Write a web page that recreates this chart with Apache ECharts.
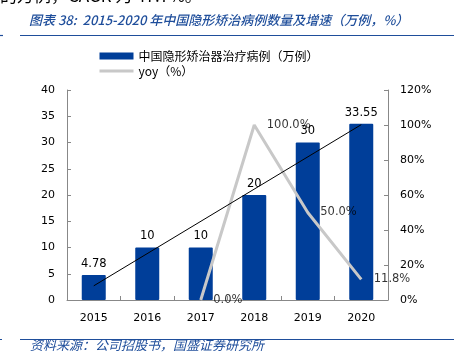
<!DOCTYPE html>
<html><head><meta charset="utf-8">
<script src="https://cdn.jsdelivr.net/npm/echarts@6/dist/echarts.min.js"></script>
<style>html,body{margin:0;padding:0;background:#fff}#c{width:454px;height:363px}</style>
</head><body><div id="c"></div>
<script>
const categories = ['2015','2016','2017','2018','2019','2020'];
const cases = [4.78, 10, 10, 20, 30, 33.55];
const yoy = [null, null, 0, 100, 50, 11.8];
const trendEnds = [2.7, 33.4];
const leftTicks = {min:0, max:40, interval:5};
const rightTicks = {min:0, max:120, interval:20};
const blue = '#003E99';
const numFont = 'DejaVu Sans';
const cjk = 'Noto Sans CJK SC';
const chart = echarts.init(document.getElementById('c'));
chart.setOption({
  animation:false,
  backgroundColor:'#fff',
  graphic:[
    {type:'text', left:0, top:-13, style:{text:'的万例，CAGR 为 47.7%。', font:'17px "Noto Sans CJK SC"', fill:'#000'}},
    {type:'text', left:29, top:14, style:{text:'图表 38:  2015-2020 年中国隐形矫治病例数量及增速（万例，%）', font:'italic 500 13px "Noto Sans CJK SC"', fill:'#1F4E9B'}},
    {type:'line', shape:{x1:20,y1:35.5,x2:454,y2:35.5}, style:{stroke:'#1F4E9B', lineWidth:1.2}},
    {type:'line', shape:{x1:0,y1:35.5,x2:3,y2:35.5}, style:{stroke:'#1F4E9B', lineWidth:1.2}},
    {type:'line', shape:{x1:20,y1:339.5,x2:454,y2:339.5}, style:{stroke:'#1F4E9B', lineWidth:1.2}},
    {type:'line', shape:{x1:0,y1:339.5,x2:2,y2:339.5}, style:{stroke:'#1F4E9B', lineWidth:1.2}},
    {type:'text', left:30, top:339, style:{text:'资料来源：公司招股书，国盛证券研究所', font:'italic 13px "Noto Sans CJK SC"', fill:'#1F4E9B'}}
  ],
  legend:{
    orient:'vertical', left:93, top:45, itemWidth:34, itemHeight:7, itemGap:3,
    textStyle:{fontFamily:cjk, fontSize:12, color:'#000'},
    data:[{name:'中国隐形矫治器治疗病例（万例）', icon:'rect'},
          {name:'yoy（%）', itemStyle:{opacity:0}, lineStyle:{color:'#C8C8C8', width:3}}]
  },
  grid:{left:67, right:66, top:90, bottom:63, containLabel:false},
  xAxis:{
    type:'category', data:categories,
    axisLine:{lineStyle:{color:'#888'}},
    axisTick:{show:true, inside:true, length:4, lineStyle:{color:'#888'}},
    axisLabel:{fontFamily:numFont, fontSize:11, color:'#000', margin:13}
  },
  yAxis:[
    {type:'value', min:leftTicks.min, max:leftTicks.max, interval:leftTicks.interval,
     splitLine:{show:false},
     axisLine:{show:true, lineStyle:{color:'#888'}},
     axisTick:{show:true, inside:true, length:4, lineStyle:{color:'#888'}},
     axisLabel:{fontFamily:numFont, fontSize:11, color:'#000', margin:12}},
    {type:'value', min:rightTicks.min, max:rightTicks.max, interval:rightTicks.interval,
     splitLine:{show:false},
     axisLine:{show:true, lineStyle:{color:'#888'}},
     axisTick:{show:true, inside:true, length:4, lineStyle:{color:'#888'}},
     axisLabel:{fontFamily:numFont, fontSize:11, color:'#000', margin:12, formatter:'{value}%'}}
  ],
  series:[
    {name:'中国隐形矫治器治疗病例（万例）', type:'bar', data:cases, barWidth:24,
     itemStyle:{color:blue, borderRadius:1},
     label:{show:true, position:'top', distance:5, fontFamily:numFont, fontSize:11.5, color:'#000'},
     markLine:{silent:true, symbol:'none', label:{show:false},
       lineStyle:{color:'#000', width:1, type:'solid'},
       data:[[{coord:[categories[0], trendEnds[0]]},{coord:[categories[5], trendEnds[1]]}]]}
    },
    {name:'yoy（%）', type:'line', yAxisIndex:1, data:yoy, symbol:'none',
     lineStyle:{color:'#C8C8C8', width:3}, itemStyle:{color:'#C8C8C8'}},
    {name:'yoyLabels', type:'scatter', yAxisIndex:1, data:yoy, symbolSize:1, silent:true,
     itemStyle:{color:'rgba(0,0,0,0)'},
     label:{show:true, position:'right', distance:12, fontFamily:numFont, fontSize:11.5, color:'#000',
       formatter:p=>p.value==null?'':Number(p.value).toFixed(1)+'%'}}
  ]
});
</script></body></html>
